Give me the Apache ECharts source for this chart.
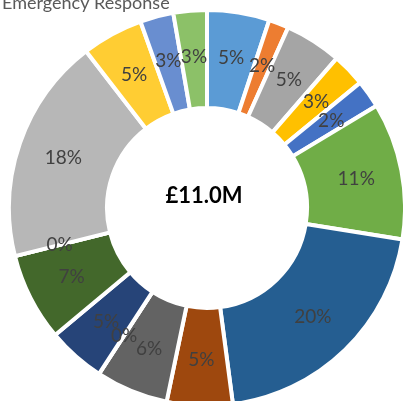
<!DOCTYPE html>
<html>
<head>
<meta charset="utf-8">
<script src="https://cdn.jsdelivr.net/npm/echarts@6/dist/echarts.min.js"></script>
<style>
html,body{margin:0;padding:0;background:#fff;}
#chart{width:403px;height:401px;}
</style>
</head>
<body>
<div id="chart"></div>
<script>
// Spend by category (£k), clockwise from 12 o'clock
var categories = ['Cat 1','Cat 2','Cat 3','Cat 4','Cat 5','Cat 6','Cat 7','Cat 8','Cat 9','Cat 10','Cat 11','Cat 12','Cat 13','Cat 14','Cat 15','Cat 16','Cat 17'];
var values = [560, 180, 510, 300, 250, 1230, 2240, 590, 650, 0, 520, 790, 0, 2030, 550, 300, 300];
var colors = ['#5B9BD5','#ED7D31','#A5A5A5','#FFC000','#4472C4','#70AD47','#255E91','#9E480E','#636363','#997300','#264478','#43682B','#7CAFDD','#B7B7B7','#FFCD33','#698ED0','#8CC168'];
var titleText = 'Emergency Response';

var total = values.reduce(function(a,b){return a+b;},0);
var centerLabel = '£' + (total/1000).toFixed(1) + 'M';

var chart = echarts.init(document.getElementById('chart'), null, {renderer:'canvas'});
chart.setOption({
  animation: false,
  title: {
    text: titleText,
    left: -3,
    top: -11,
    textStyle: {fontFamily: 'Lato', fontSize: 18, fontWeight: 'normal', color: '#595959'}
  },
  graphic: [{
    type: 'text',
    style: {
      text: centerLabel,
      x: 204, y: 196,
      align: 'center', verticalAlign: 'middle',
      font: 'bold 22px Lato',
      fill: '#000'
    },
    x: 0, y: 0
  }],
  series: [{
    type: 'pie',
    center: [207, 208],
    radius: [100, 198],
    startAngle: 90,
    clockwise: true,
    avoidLabelOverlap: false,
    labelLayout: {hideOverlap: false},
    itemStyle: {borderColor: '#fff', borderWidth: 4},
    label: {
      show: true,
      position: 'inside',
      formatter: function(p){ return Math.round(p.percent) + '%'; },
      fontFamily: 'Lato',
      fontSize: 19,
      color: '#404040'
    },
    labelLine: {show: false},
    emphasis: {disabled: true},
    data: categories.map(function(c,i){
      return {name: c, value: values[i], itemStyle: {color: colors[i]}};
    })
  }]
});
</script>
</body>
</html>
